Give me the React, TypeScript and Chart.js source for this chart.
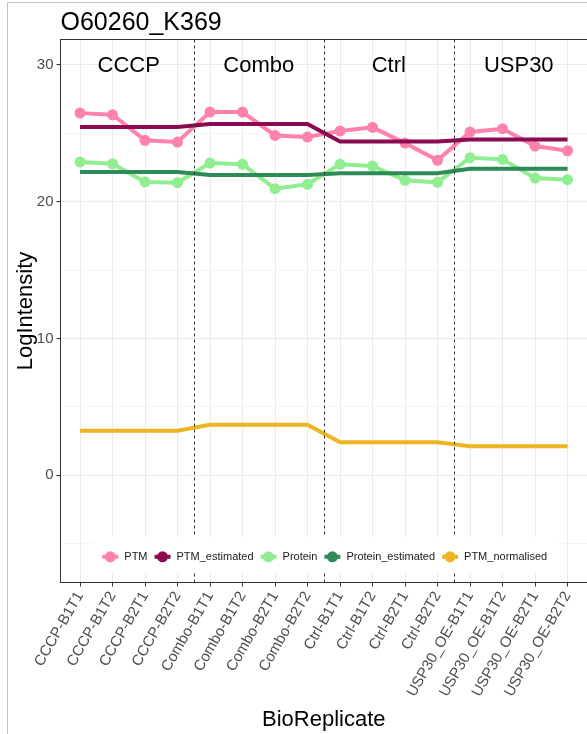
import React, { useEffect, useRef } from "react";
import { Chart, registerables } from "chart.js";

Chart.register(...registerables);

const replicates = [
  "CCCP-B1T1", "CCCP-B1T2", "CCCP-B2T1", "CCCP-B2T2",
  "Combo-B1T1", "Combo-B1T2", "Combo-B2T1", "Combo-B2T2",
  "Ctrl-B1T1", "Ctrl-B1T2", "Ctrl-B2T1", "Ctrl-B2T2",
  "USP30_OE-B1T1", "USP30_OE-B1T2", "USP30_OE-B2T1", "USP30_OE-B2T2",
];
const groups = ["CCCP", "Combo", "Ctrl", "USP30"];
const groupCenters = [1.5, 5.5, 9.5, 13.5];
const groupBreaks = [3.5, 7.5, 11.5];

const ptm = [26.47, 26.35, 24.48, 24.36, 26.55, 26.55, 24.84, 24.72, 25.16, 25.43, 24.28, 23.02, 25.09, 25.33, 24.06, 23.72];
const ptmEstimated = [25.45, 25.45, 25.45, 25.45, 25.67, 25.67, 25.67, 25.67, 24.4, 24.4, 24.4, 24.4, 24.55, 24.55, 24.55, 24.55];
const protein = [22.9, 22.77, 21.44, 21.39, 22.82, 22.73, 20.95, 21.27, 22.73, 22.6, 21.56, 21.41, 23.21, 23.09, 21.73, 21.61];
const proteinEstimated = [22.17, 22.17, 22.17, 22.17, 21.95, 21.95, 21.95, 21.95, 22.07, 22.07, 22.07, 22.07, 22.41, 22.41, 22.41, 22.41];
const ptmNormalised = [3.26, 3.26, 3.26, 3.26, 3.7, 3.7, 3.7, 3.7, 2.41, 2.41, 2.41, 2.41, 2.12, 2.12, 2.12, 2.12];

const yTicks = [-5, 0, 5, 10, 15, 20, 25, 30];
const seriesNames = ["PTM", "PTM_estimated", "Protein", "Protein_estimated", "PTM_normalised"];
const seriesColors = ["#FF82AB", "#8B0A50", "#90EE90", "#2E8B57", "#EEB422"];

const FONT = "'Liberation Sans', Arial, sans-serif";

const toPoints = (arr: number[]) => arr.map((y, i) => ({ x: i, y }));

const zeroPadding = () => ({ left: 0, top: 0, right: 0, bottom: 0 });

const decorPlugin = {
  id: "decor",
  beforeDraw(chart: any) {
    const { ctx, width, height } = chart;
    ctx.save();
    ctx.fillStyle = "#FFFFFF";
    ctx.fillRect(0, 0, width, height);
    ctx.restore();
  },
  afterDatasetsDraw(chart: any) {
    const { ctx, chartArea } = chart;
    const xs = chart.scales.x;
    const ys = chart.scales.y;
    ctx.save();

    // dashed group separators
    ctx.strokeStyle = "#333333";
    ctx.lineWidth = 1;
    ctx.setLineDash([3, 3]);
    groupBreaks.forEach((b) => {
      const px = Math.round(xs.getPixelForValue(b)) + 0.5;
      ctx.beginPath();
      ctx.moveTo(px, chartArea.top);
      ctx.lineTo(px, chartArea.bottom);
      ctx.stroke();
    });
    ctx.setLineDash([]);

    // group labels
    ctx.fillStyle = "#000000";
    ctx.font = `22px ${FONT}`;
    ctx.textAlign = "center";
    ctx.textBaseline = "middle";
    groups.forEach((g, i) => {
      ctx.fillText(g, xs.getPixelForValue(groupCenters[i]), ys.getPixelForValue(29.95));
    });

    // legend inside panel
    ctx.font = `11px ${FONT}`;
    const keyHalf = 8;
    const textGap = 14;
    const itemGap = 15;
    const widths = seriesNames.map((n) => ctx.measureText(n).width);
    let total = 0;
    widths.forEach((w, i) => {
      total += keyHalf * 2 + (textGap - keyHalf) + w;
      if (i < widths.length - 1) total += itemGap - keyHalf;
    });
    const centerX = (chartArea.left + chartArea.right) / 2 + 1;
    const ly = ys.getPixelForValue(-5.95);
    let x = centerX - total / 2;
    ctx.fillStyle = "#FFFFFF";
    ctx.fillRect(x - 10, ly - 20, total + 20, 36);
    ctx.textAlign = "left";
    ctx.textBaseline = "middle";
    seriesNames.forEach((n, i) => {
      const cx = x + keyHalf;
      ctx.strokeStyle = seriesColors[i];
      ctx.lineWidth = 4;
      ctx.beginPath();
      ctx.moveTo(cx - keyHalf, ly);
      ctx.lineTo(cx + keyHalf, ly);
      ctx.stroke();
      ctx.fillStyle = seriesColors[i];
      ctx.beginPath();
      ctx.arc(cx, ly, 5.5, 0, Math.PI * 2);
      ctx.fill();
      ctx.fillStyle = "#1A1A1A";
      ctx.fillText(n, cx + textGap, ly + 0.5);
      x = cx + textGap + widths[i] + itemGap - keyHalf;
    });

    // panel border (right edge falls just outside the picture)
    ctx.strokeStyle = "#333333";
    ctx.lineWidth = 1;
    ctx.strokeRect(chartArea.left, chartArea.top, chartArea.right - chartArea.left + 2, chartArea.bottom - chartArea.top);

    // plot title
    ctx.fillStyle = "#000000";
    ctx.font = `25px ${FONT}`;
    ctx.textAlign = "left";
    ctx.textBaseline = "alphabetic";
    ctx.fillText("O60260_K369", chartArea.left, 29.5);

    // outer frame
    ctx.strokeStyle = "#C4C4C4";
    ctx.lineWidth = 1;
    ctx.beginPath();
    ctx.moveTo(7.5, chart.height);
    ctx.lineTo(7.5, 2.5);
    ctx.lineTo(chart.width, 2.5);
    ctx.stroke();

    ctx.restore();
  },
};

export default function App() {
  const canvasRef = useRef<HTMLCanvasElement | null>(null);

  useEffect(() => {
    if (!canvasRef.current) return;
    const lineDs = (label: string, data: number[], color: string, points: boolean, order: number) => ({
      label,
      data: toPoints(data),
      borderColor: color,
      backgroundColor: color,
      borderWidth: 4,
      pointRadius: points ? 5.5 : 0,
      pointBorderWidth: 0,
      pointHoverRadius: points ? 5.5 : 0,
      tension: 0,
      order,
    });
    const chart = new Chart(canvasRef.current, {
      type: "line",
      data: {
        datasets: [
          lineDs(seriesNames[0], ptm, seriesColors[0], true, 2),
          lineDs(seriesNames[1], ptmEstimated, seriesColors[1], false, 1),
          lineDs(seriesNames[2], protein, seriesColors[2], true, 2),
          lineDs(seriesNames[3], proteinEstimated, seriesColors[3], false, 1),
          lineDs(seriesNames[4], ptmNormalised, seriesColors[4], false, 1),
        ] as any,
      },
      options: {
        animation: false,
        responsive: false,
        devicePixelRatio: 1,
        layout: { padding: { top: 39.5, right: 0, left: 0, bottom: 0 }, autoPadding: false } as any,
        plugins: {
          legend: { display: false },
          tooltip: { enabled: false },
          title: { display: false },
        },
        scales: {
          x: {
            type: "linear",
            min: -0.6,
            max: 15.6,
            afterBuildTicks: (scale: any) => {
              scale.ticks = replicates.map((_, i) => ({ value: i }));
            },
            afterFit: (scale: any) => {
              scale.height = 151.5;
              scale.paddingLeft = 0;
              scale.paddingRight = 0;
              scale.paddingTop = 0;
              scale.paddingBottom = 0;
              scale.getPadding = zeroPadding;
            },
            ticks: {
              autoSkip: false,
              minRotation: 60,
              maxRotation: 60,
              padding: 2,
              color: "#4D4D4D",
              font: { family: FONT, size: 15 },
              callback: (v: any) => replicates[v as number] ?? "",
            },
            grid: {
              color: "#EBEBEB",
              lineWidth: 1,
              tickLength: 4,
              tickColor: "#333333",
              offset: false,
            },
            border: { display: false },
            title: {
              display: true,
              text: "BioReplicate",
              color: "#000000",
              font: { family: FONT, size: 22 },
              padding: { top: 0, bottom: 1 },
            },
          },
          y: {
            type: "linear",
            min: -7.83,
            max: 31.85,
            afterBuildTicks: (scale: any) => {
              scale.ticks = yTicks.map((v) => ({ value: v }));
            },
            afterFit: (scale: any) => {
              scale.width = 60.5;
              scale.paddingLeft = 0;
              scale.paddingRight = 0;
              scale.paddingTop = 0;
              scale.paddingBottom = 0;
              scale.getPadding = zeroPadding;
            },
            ticks: {
              padding: 3,
              color: "#4D4D4D",
              font: { family: FONT, size: 15 },
              callback: (v: any) => ((v as number) % 10 === 0 ? String(v) : ""),
            },
            grid: {
              color: (c: any) => ((c.tick && c.tick.value % 10 === 0) ? "#EBEBEB" : "#F2F2F2"),
              lineWidth: (c: any) => ((c.tick && c.tick.value % 10 === 0) ? 1.1 : 0.8),
              tickLength: 4,
              tickColor: (c: any) => ((c.tick && c.tick.value % 10 === 0) ? "#333333" : "rgba(0,0,0,0)"),
            },
            border: { display: false },
            title: {
              display: true,
              text: "LogIntensity",
              color: "#000000",
              font: { family: FONT, size: 22 },
              padding: { top: 12.5, bottom: 0 },
            },
          },
        },
      },
      plugins: [decorPlugin],
    });
    return () => chart.destroy();
  }, []);

  return (
    <div style={{ position: "absolute", left: 0, top: 0, width: 587, height: 734, background: "#fff" }}>
      <canvas ref={canvasRef} width={587} height={734} style={{ display: "block" }} />
    </div>
  );
}
